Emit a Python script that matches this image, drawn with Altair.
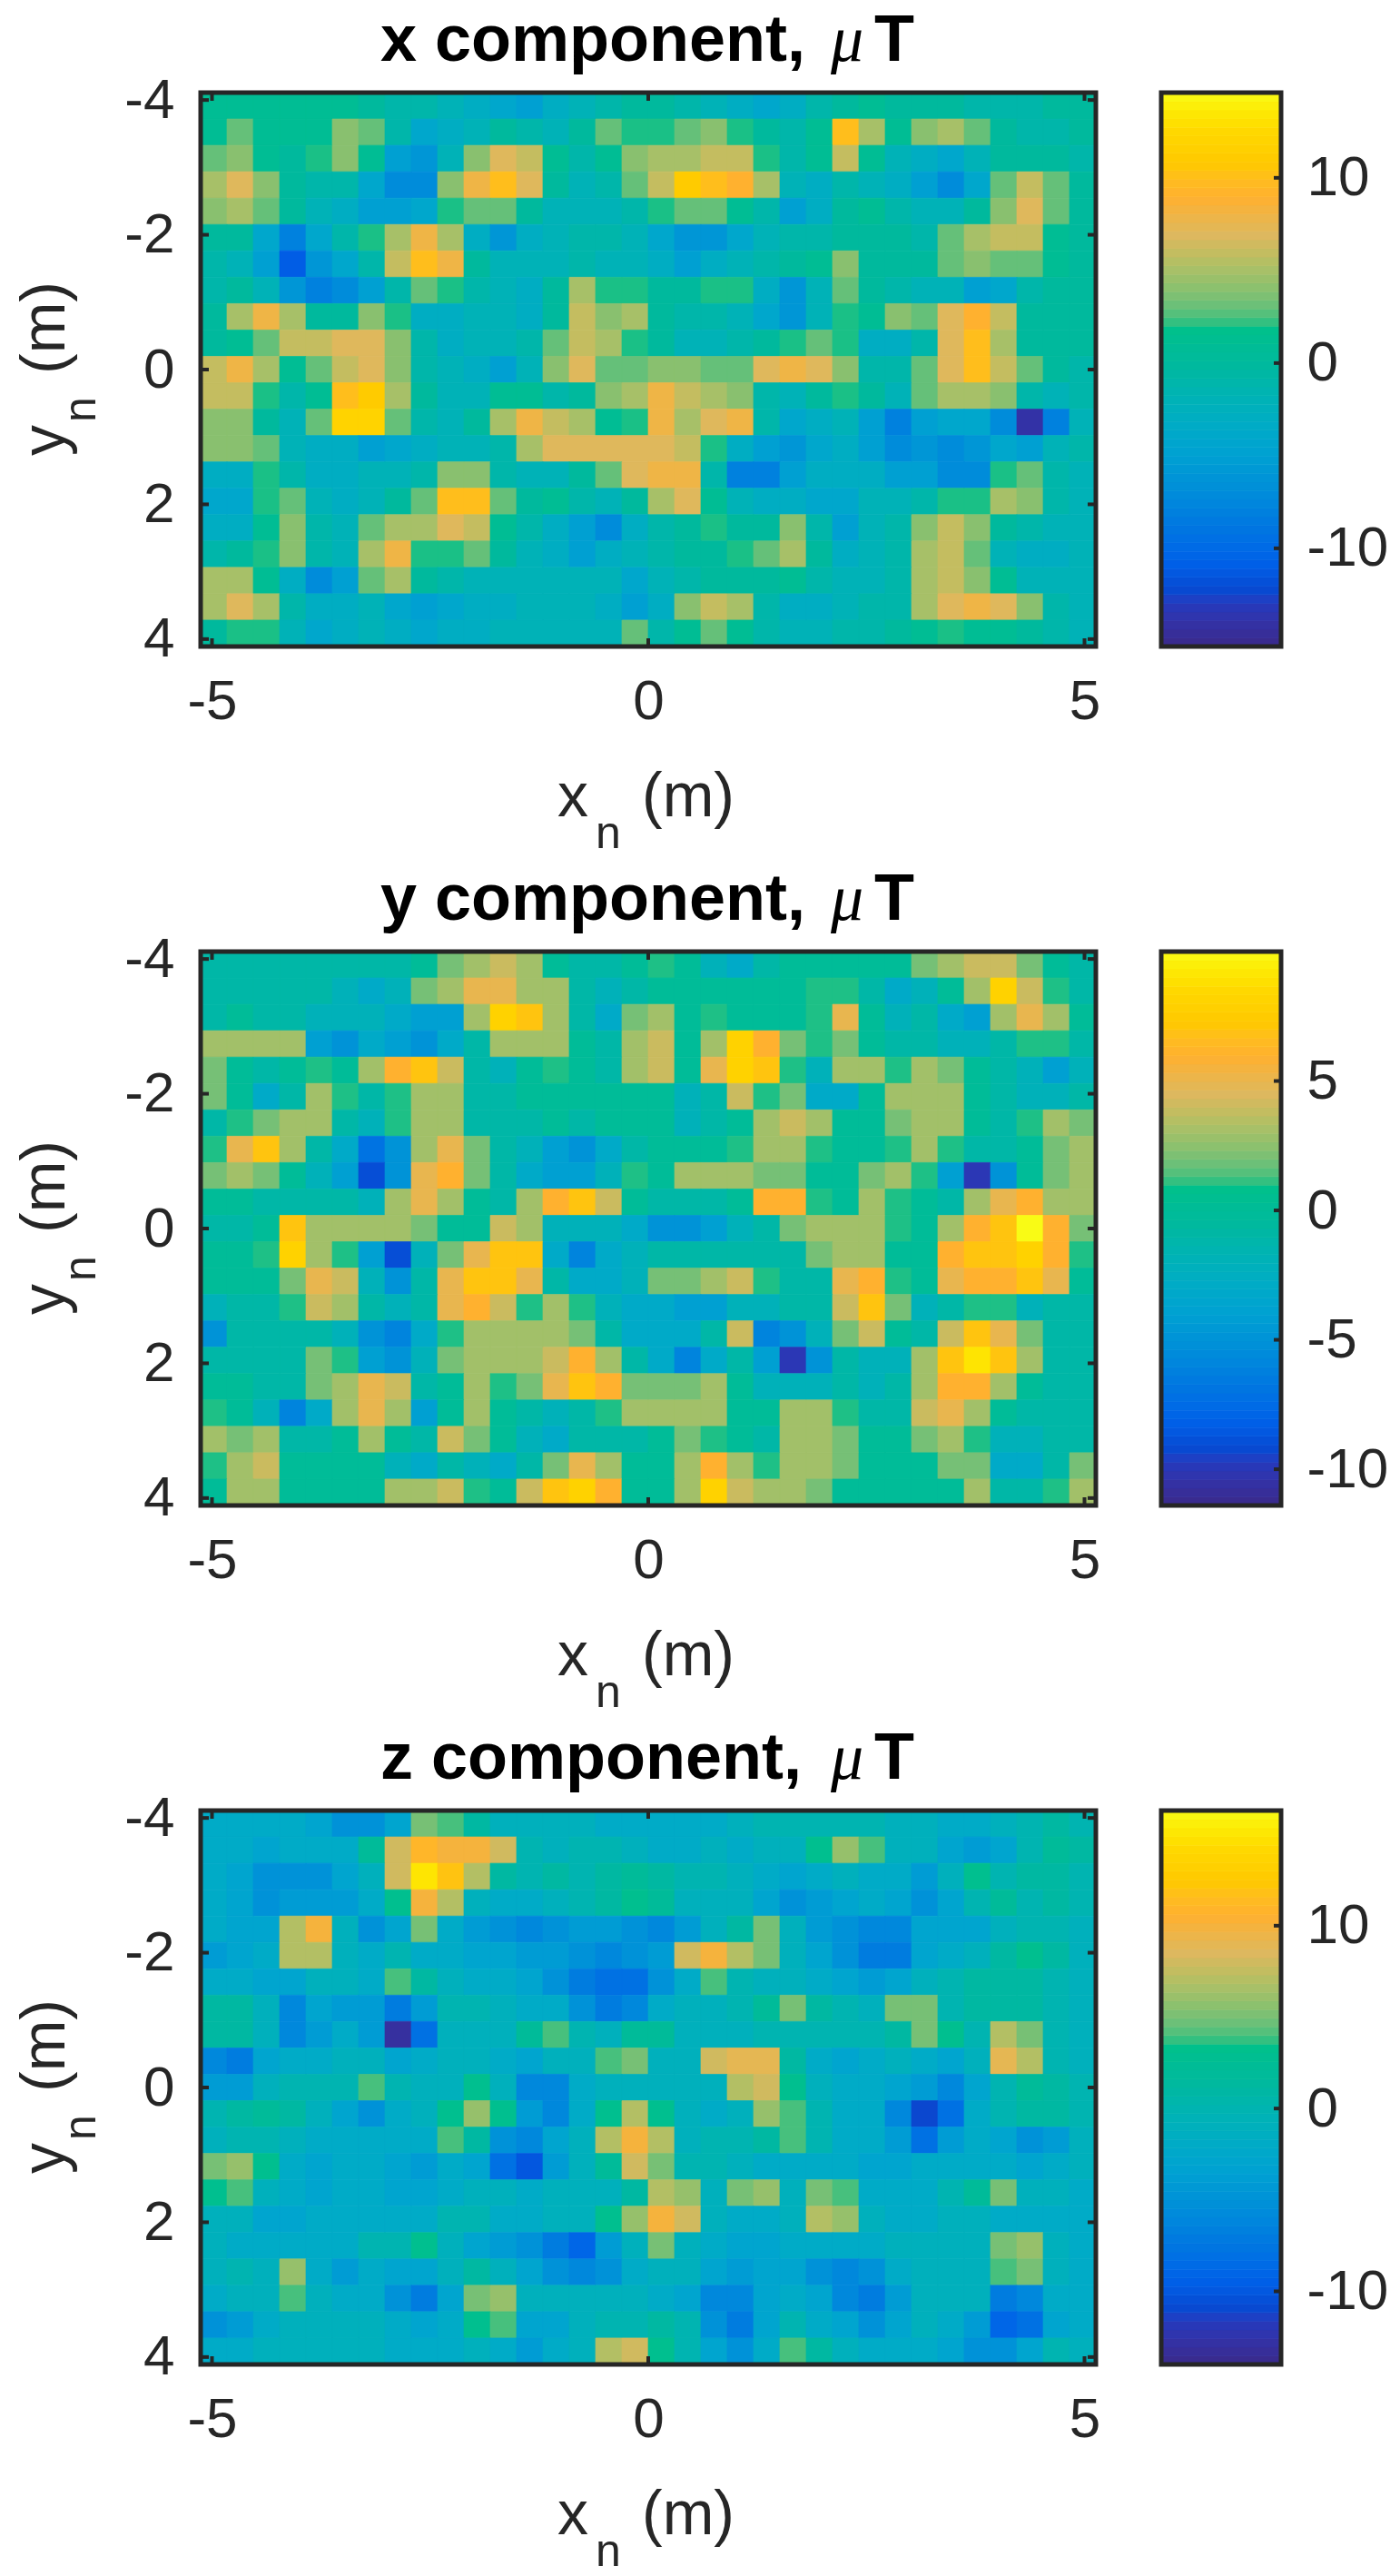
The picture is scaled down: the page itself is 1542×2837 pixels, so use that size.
import altair as alt
import numpy as np
import pandas as pd

# ---- values, µT, top row first (y = -4 side), left to right
x_rows = [
[1,1,1,1,1,1,0,-1,-1,-2,-3,-4,-5,-3,-2,-1,0,0,-1,-2,-3,-4,-3,-1,0,1,0,0,0,-1,-1,-1,0,0],
[1,3,1,1,1,4,3,-1,-4,-3,-2,0,-1,-2,0,3,2,2,3,4,2,0,-1,1,10,5,1,4,5,3,0,-1,-1,0],
[3,4,1,0,2,4,1,-5,-6,-2,4,7,6,1,-1,1,4,5,5,6,6,2,-1,1,6,1,-2,-3,-4,-2,0,0,0,-1],
[5,7,4,0,-1,-1,-4,-7,-7,4,8,10,7,0,-2,-1,3,6,11,10,9,5,-2,-3,-1,-2,-3,-5,-7,-4,3,6,3,0],
[4,5,3,0,-2,-3,-5,-5,-4,2,3,3,0,-2,-2,-2,-1,2,3,3,1,-1,-5,-3,0,1,-1,-2,-2,0,4,7,3,0],
[0,0,-4,-8,-4,-1,2,5,8,5,-3,-6,-3,-2,-1,-1,-2,-4,-6,-6,-4,-2,-1,-1,0,0,0,-1,3,5,6,6,1,0],
[-1,-2,-5,-11,-6,-4,-1,6,10,8,0,-2,-2,-2,-1,-2,-2,-3,-5,-3,-2,-1,0,1,4,0,0,0,3,4,3,3,1,0],
[-1,0,-2,-6,-8,-7,-5,-1,3,2,-1,-2,-3,0,5,2,2,0,0,2,2,-3,-6,-2,3,0,-1,-2,-2,-5,-4,-1,0,0],
[0,5,8,5,0,0,4,2,-3,-3,-2,-2,-3,0,6,4,5,0,-1,-1,-2,-4,-6,-2,2,1,4,3,7,9,6,0,0,0],
[0,1,3,6,6,7,7,4,-1,-3,-2,-2,-1,3,6,5,2,0,-2,-2,-1,0,2,3,2,-3,-3,-1,7,10,5,0,0,0],
[6,8,5,1,3,6,7,4,-1,-2,-3,-5,-2,4,7,3,3,4,4,3,3,7,8,7,4,-1,-1,3,7,10,6,3,0,-1],
[6,6,2,-1,1,10,11,5,0,-2,-2,1,1,-1,0,4,5,8,6,5,4,-1,-2,0,2,0,-2,3,5,5,4,-1,-2,-1],
[4,4,0,-2,3,12,12,3,-1,-2,0,5,8,6,5,1,2,8,5,7,8,-1,-4,-3,-2,-5,-8,-5,-4,-4,-7,-14,-8,-2],
[4,4,3,-2,-3,-3,-5,-4,-3,-2,-2,-1,5,7,7,7,7,7,6,2,-3,-5,-6,-4,-3,-5,-7,-6,-7,-6,-4,-5,-2,-1],
[-3,-3,2,-1,-3,-3,-2,-2,-1,4,4,-1,-2,-2,0,3,7,8,8,-1,-8,-8,-5,-3,-3,-3,-5,-5,-7,-7,2,3,-1,-2],
[-4,-4,2,3,-2,-3,-2,0,3,10,10,3,0,1,-1,-2,0,5,7,1,-2,-3,-3,-4,-4,-2,-2,-1,2,2,5,4,-1,-2],
[-3,-3,1,4,-1,-2,3,5,5,7,6,1,-1,-3,-5,-7,-3,-1,0,2,0,0,4,-1,-5,-2,-1,4,6,4,0,-1,-2,-2],
[-1,0,2,4,-1,-2,5,8,2,2,3,0,-2,-3,-5,-3,-2,-1,0,0,2,3,5,0,-3,-2,-1,5,6,3,-2,-3,-3,-2],
[5,5,1,-3,-7,-5,3,5,0,-1,-2,-2,-2,-2,-2,-2,-4,-2,-1,0,0,0,1,-1,-2,-2,-1,5,6,4,1,-2,-2,-2],
[5,7,5,-1,-3,-3,-2,-4,-5,-4,-3,-3,-2,-2,-2,-3,-5,-3,4,6,5,-1,-3,-3,-2,-1,-1,5,7,8,7,4,-1,-2],
[0,2,2,-2,-4,-3,-2,-3,-4,-3,-3,-2,-2,-2,-2,-2,3,-1,1,3,1,-1,-2,-2,-1,-1,0,1,2,1,1,0,-1,-2],
]
y_rows = [
[-1,-1,-1,-1,-1,-1,-1,-1,0,2,3,4,3,0,-1,-1,0,1,0,-2,-3,-1,0,0,0,0,0,2,3,4,4,2,0,-1],
[-1,-1,-1,-1,-1,-2,-3,-2,2,3,5,5,3,3,-1,-2,-1,0,0,0,0,0,0,1,1,-1,-3,-2,0,3,8,4,1,-1],
[-1,0,-1,-1,-2,-2,-2,-3,-4,-4,3,8,7,3,-1,-3,2,3,0,1,0,0,0,1,5,0,-2,-1,-3,-4,3,5,3,0],
[3,3,3,3,-4,-5,-3,-4,-5,-3,-1,3,3,3,0,-1,3,4,0,3,8,6,2,1,2,0,-1,-1,-2,-2,-1,1,1,-1],
[2,0,-1,0,1,0,3,6,7,4,-1,-2,0,1,0,-1,3,4,0,5,8,7,1,-2,3,3,1,3,2,0,-1,-2,-4,-2],
[2,0,-3,-1,3,1,-1,1,3,3,-1,-1,0,0,0,0,0,0,-2,-1,4,1,2,-3,-3,0,3,3,3,0,-1,-2,-2,-1],
[-1,1,2,3,3,-1,-2,1,3,3,-1,-1,-1,0,-1,0,0,0,-2,-1,0,3,4,3,0,0,2,3,3,0,-1,1,3,2],
[1,5,7,3,-1,-3,-7,-5,3,5,2,-1,-2,-4,-5,-3,-1,0,0,0,1,3,3,1,0,0,1,3,1,-1,-1,0,2,3],
[2,3,2,0,-2,-4,-9,-5,5,6,2,-1,-3,-4,-4,-2,1,0,3,3,3,2,2,0,0,2,3,1,-4,-10,-5,0,2,3],
[0,0,-1,-1,-1,-1,-2,3,5,3,0,-1,3,6,7,4,0,-1,-1,-1,0,6,6,1,0,3,1,0,-1,3,5,6,3,3],
[-1,-1,0,7,3,3,3,3,2,0,0,4,3,-2,-2,-2,-3,-5,-5,-4,-2,-1,2,3,3,3,1,0,3,6,7,10,6,2],
[0,0,1,8,3,1,-4,-9,-2,2,5,7,7,-3,-6,-3,-2,-1,-1,-1,-1,-1,-1,2,3,3,0,0,6,7,7,8,6,1],
[0,0,0,2,5,4,-2,-5,-1,5,7,7,5,-1,-3,-3,-2,2,2,3,4,1,-1,-1,5,6,1,0,5,6,6,7,5,0],
[-2,-1,-1,1,4,3,-1,-2,-1,5,6,4,1,3,1,-2,-3,-3,-4,-4,-2,-2,-1,-1,4,7,2,-2,-1,1,1,-2,-1,-1],
[-5,-1,-1,-1,-1,-2,-5,-6,-3,1,3,3,3,3,2,-1,-3,-3,-3,-1,4,-6,-5,-2,2,4,0,-1,4,7,5,2,-1,-1],
[-1,-1,-1,-1,2,1,-4,-5,-2,2,3,3,3,4,6,3,-1,-3,-6,-3,-1,-4,-10,-5,-1,-2,-2,3,7,9,7,3,-1,-1],
[0,0,-1,-1,2,3,5,4,-1,0,3,1,2,5,7,6,2,2,2,3,0,-2,-2,-2,-1,-2,-1,3,6,6,3,0,-1,-1],
[1,0,-2,-6,-3,3,5,3,-4,0,3,0,-1,-2,-1,1,3,3,3,3,0,0,3,3,1,-1,-1,4,5,3,0,-1,-1,-1],
[3,2,3,-1,-1,0,3,0,-1,4,2,0,-2,-3,-1,-1,-1,0,2,1,0,-1,3,3,2,0,0,2,3,1,-2,-2,-1,-1],
[1,3,4,0,0,0,0,-2,-3,-1,-2,-3,-1,2,5,3,0,0,3,6,3,1,3,3,2,0,0,0,2,2,-3,-3,-1,2],
[0,3,3,0,0,0,0,3,3,4,1,0,4,7,8,6,0,0,3,8,4,3,3,2,0,0,0,0,0,3,-1,-1,1,3],
]
z_rows = [
[-2,-2,-2,-2,-3,-5,-5,-3,5,4,1,-1,-1,-1,-1,-2,-2,-2,-2,-2,-1,0,0,0,0,0,-1,-1,-2,-2,-1,0,1,0],
[-2,-2,-3,-2,-2,-2,2,8,11,10,10,8,0,-1,0,0,-1,-2,-2,-1,-2,-1,-1,3,6,4,-1,-1,-3,-4,-3,0,2,1],
[-2,-3,-5,-5,-5,-3,-1,8,15,12,7,1,0,1,0,1,2,1,0,0,-1,-2,-3,-2,-1,-2,-2,-4,-1,3,0,1,1,0],
[-2,-3,-5,-4,-4,-4,-2,3,10,7,-1,-2,-2,-1,0,1,3,2,-1,-1,-1,-3,-5,-4,-3,-2,-3,-5,-3,0,2,0,1,0],
[-2,-3,-3,7,10,-1,-5,-3,5,-2,-4,-5,-6,-5,-4,-4,-5,-6,-4,-1,1,5,-1,-4,-5,-6,-6,-3,-3,-3,-1,0,0,-1],
[-4,-3,-2,7,7,-1,-2,0,-2,-2,-3,-3,-4,-4,-5,-6,-5,-4,8,10,7,5,-1,-3,-5,-7,-7,-3,-2,-1,1,3,1,-1],
[-2,-2,-3,-3,-1,-1,-2,4,1,-1,-2,-2,-3,-5,-7,-8,-8,-5,-2,4,0,-1,-1,-2,-3,-4,-3,-1,0,1,1,1,0,-1],
[1,1,-1,-6,-3,-4,-4,-7,-4,0,0,-1,-2,-2,-5,-7,-6,-2,-1,-1,0,2,5,1,0,-1,5,5,0,1,1,1,0,-1],
[1,1,-1,-6,-4,-2,-4,-13,-8,-1,-1,-1,2,4,0,-1,2,2,-1,-1,-1,0,0,0,0,0,1,5,3,0,7,5,0,-1],
[-6,-7,-3,-2,-2,-1,-1,-3,-2,-1,-1,-2,-3,-1,-1,4,5,-1,-1,8,9,9,1,-2,-3,-2,-1,-2,-3,-1,9,7,0,-1],
[-4,-4,-1,0,0,0,4,0,-1,-1,3,-1,-6,-6,-2,-1,-1,-1,-1,-1,7,8,3,-1,-2,-2,-3,-4,-6,-3,0,2,1,0],
[0,1,2,1,-1,-3,-5,-2,-1,3,6,3,-4,-6,-2,3,7,3,-1,-2,-1,6,4,0,-2,-2,-6,-11,-8,-2,0,1,1,0],
[-1,0,0,-1,-2,-2,-2,-2,-2,4,1,-5,-6,-3,-1,7,10,7,-1,0,0,1,4,0,-2,-2,-4,-8,-4,-2,-3,-5,-4,-1],
[5,6,3,-2,-3,-2,-2,-3,-4,-2,-3,-8,-10,-4,-1,2,8,5,0,0,-1,-2,-2,-2,-2,-3,-3,-2,-2,-2,-2,-3,-2,-1],
[3,4,-1,-2,-3,-2,-2,-3,-3,-2,-1,-1,-2,-1,-1,-1,1,7,6,-1,5,6,-1,5,4,-2,-2,-2,0,2,5,-1,-1,-2],
[-1,-1,-3,-3,-2,-2,-2,-2,-2,0,0,-2,-2,-1,-1,3,6,10,8,-1,-2,-2,-1,7,6,-1,-2,-2,-1,-1,-2,-2,-2,-2],
[-1,-2,-2,-2,-2,-2,0,0,3,-1,-3,-4,-5,-7,-9,-4,-1,5,-1,-2,-3,-3,-2,-2,-2,-2,-1,-1,-1,-1,5,6,-1,-2],
[-1,0,-1,6,-2,-4,-2,-3,-3,-1,1,-1,-3,-5,-6,-5,-2,-1,-1,-3,-4,-3,-3,-5,-6,-5,-2,-1,-1,-1,4,5,-1,-2],
[-2,-1,-1,4,-1,-2,-2,-5,-7,-3,5,6,-1,-1,-1,-1,-1,-2,-3,-6,-6,-3,-2,-3,-6,-7,-4,-1,-1,-1,-7,-6,-2,-2],
[-5,-4,-2,-1,-1,-1,-1,-2,-3,-2,3,4,-3,-3,-1,0,0,1,0,-5,-7,-3,0,-2,-3,-5,-3,-1,-2,-4,-9,-8,-3,-2],
[-2,-2,-1,-1,-1,-1,-1,-2,-2,-2,-1,-2,-4,-2,-1,7,8,3,0,-3,-5,-2,4,1,-1,-2,-2,-2,-3,-5,-5,-3,0,-1],
]
panel_names = ["x", "y", "z"]
color_limits = [(-15.3, 14.6), (-11.4, 10.0), (-14.0, 16.3)]
bar_ticks = [[-10, 0, 10], [-10, -5, 0, 5], [-10, 0, 10]]
x_ticks = [-5, 0, 5]
y_ticks = [-4, -2, 0, 2, 4]
stops = [0, .07, .10, .15, .22, .29, .36, .43, .50, .575, .585, .62, .68, .74, .81, .87, .93, 1]
colors = ["#3a2a8a", "#2838b8", "#0848d0", "#0060e8", "#0078e0", "#0090d8", "#00a4d0", "#00b0bc",
          "#00b8a0", "#00c08a", "#30c080", "#70c078", "#a8c068", "#dcb860", "#ffb030", "#ffc800",
          "#ffd800", "#f9fb15"]

W, H, BW = 986, 610, 132
XLIM, YLIM = 5.13, 4.11
DARK = "#262626"
SANS = "Liberation Sans"


def label(txt, x, y, size, angle=0, bold=False, font=SANS, italic=False, color=DARK):
    return alt.Chart(pd.DataFrame({"a": [0]})).mark_text(
        align="left", baseline="alphabetic", font=font, fontSize=size, angle=angle,
        fontWeight="bold" if bold else "normal", fontStyle="italic" if italic else "normal",
        color=color,
    ).encode(x=alt.value(x), y=alt.value(y), text=alt.value(txt))


def panel(rows, name, lim):
    assert all(len(r) == 34 for r in rows) and len(rows) == 21, [len(r) for r in rows]
    recs = []
    dx, dy = 2 * XLIM / 34, 2 * YLIM / 21
    for j, r in enumerate(rows):
        for i, v in enumerate(r):
            recs.append({"x0": -XLIM + i * dx, "x1": -XLIM + (i + 1) * dx,
                         "y0": -YLIM + j * dy, "y1": -YLIM + (j + 1) * dy, "v": v})
    lo, hi = lim
    cscale = alt.Scale(domain=[lo + f * (hi - lo) for f in stops], range=colors)
    xs = alt.Scale(domain=[-XLIM, XLIM], nice=False, zero=False)
    ys = alt.Scale(domain=[YLIM, -YLIM], nice=False, zero=False)
    xaxis = alt.Axis(values=x_ticks, grid=False, ticks=False, domain=False, labelFont=SANS, title=None,
                     labelFontSize=62, labelColor=DARK, labelPadding=30, labelExpr="'' + datum.value",
                     labelFlush=False, labelOverlap=False)
    yaxis = alt.Axis(values=y_ticks, grid=False, ticks=False, domain=False, labelFont=SANS, title=None,
                     labelFontSize=62, labelColor=DARK, labelPadding=29, labelExpr="'' + datum.value",
                     labelFlush=False, labelOverlap=False)
    cells = alt.Chart(pd.DataFrame(recs)).mark_rect(strokeWidth=0.7, clip=True).encode(
        x=alt.X("x0:Q", scale=xs, axis=xaxis),
        x2="x1:Q",
        y=alt.Y("y0:Q", scale=ys, axis=yaxis),
        y2="y1:Q",
        color=alt.Color("v:Q", scale=cscale, legend=None),
        stroke=alt.Stroke("v:Q", scale=cscale, legend=None),
    )
    xt = alt.Chart(pd.DataFrame({"t": x_ticks}))
    yt = alt.Chart(pd.DataFrame({"t": y_ticks}))
    tx = alt.X("t:Q", scale=xs, axis=xaxis)
    ty = alt.Y("t:Q", scale=ys, axis=yaxis)
    rule = dict(color=DARK, strokeWidth=4)
    ticks = [
        xt.mark_rule(**rule).encode(x=tx, y=alt.value(H), y2=alt.value(H - 9)),
        xt.mark_rule(**rule).encode(x=tx, y=alt.value(0), y2=alt.value(9)),
        yt.mark_rule(**rule).encode(y=ty, x=alt.value(0), x2=alt.value(9)),
        yt.mark_rule(**rule).encode(y=ty, x=alt.value(W), x2=alt.value(W - 9)),
    ]
    frame = alt.Chart(pd.DataFrame({"a": [0]})).mark_rect(
        fill="transparent", stroke=DARK, strokeWidth=5
    ).encode(x=alt.value(0), x2=alt.value(W), y=alt.value(0), y2=alt.value(H))
    texts = [
        label(f"{name} component,", 198, -35, 72, bold=True, color="black"),
        label("\u03bc", 694, -35, 72, italic=True, font="Liberation Serif", color="black"),
        label("T", 742, -35, 72, bold=True, color="black"),
        label("x", 393, H + 187, 68),
        label("n", 435, H + 222, 50),
        label("(m)", 486, H + 187, 68),
        label("y", -150, 400, 68, angle=270),
        label("n", -116, 363, 50, angle=270),
        label("(m)", -150, 310, 68, angle=270),
    ]
    return alt.layer(cells, *ticks, frame, *texts).properties(width=W, height=H)


def colorbar(lim, tick_vals):
    lo, hi = lim
    n = 64
    edges = np.linspace(lo, hi, n + 1)
    df = pd.DataFrame({"y0": edges[:-1], "y1": edges[1:], "v": (edges[:-1] + edges[1:]) / 2})
    cscale = alt.Scale(domain=[lo + f * (hi - lo) for f in stops], range=colors)
    ys = alt.Scale(domain=[lo, hi], nice=False, zero=False)
    axis = alt.Axis(orient="right", values=tick_vals, grid=False, ticks=False, domain=False, title=None,
                    labelFont=SANS, labelFontSize=62, labelColor=DARK, labelPadding=28,
                    labelExpr="'' + datum.value", labelFlush=False, labelOverlap=False)
    bands = alt.Chart(df).mark_rect(strokeWidth=0.7, clip=True).encode(
        x=alt.value(0), x2=alt.value(BW),
        y=alt.Y("y0:Q", scale=ys, axis=axis),
        y2="y1:Q",
        color=alt.Color("v:Q", scale=cscale, legend=None),
        stroke=alt.Stroke("v:Q", scale=cscale, legend=None),
    )
    tk = alt.Chart(pd.DataFrame({"t": tick_vals})).mark_rule(color=DARK, strokeWidth=4).encode(
        y=alt.Y("t:Q", scale=ys, axis=axis), x=alt.value(BW - 8), x2=alt.value(BW))
    frame = alt.Chart(pd.DataFrame({"a": [0]})).mark_rect(
        fill="transparent", stroke=DARK, strokeWidth=5
    ).encode(x=alt.value(0), x2=alt.value(BW), y=alt.value(0), y2=alt.value(H))
    return alt.layer(bands, tk, frame).properties(width=BW, height=H)


rows_all = [x_rows, y_rows, z_rows]
row_charts = [
    alt.hconcat(panel(r, n, lim), colorbar(lim, t), spacing=72, bounds="flush")
    for r, n, lim, t in zip(rows_all, panel_names, color_limits, bar_ticks)
]
chart = alt.vconcat(*row_charts, spacing=946, bounds="flush").properties(
    padding={"left": 8, "top": 0, "right": 0, "bottom": 0}
).resolve_scale(color="independent", stroke="independent", x="independent", y="independent"
).configure_view(stroke=None).configure(background="white")

chart.save("out.html", embed_options={"renderer": "svg", "actions": False})
